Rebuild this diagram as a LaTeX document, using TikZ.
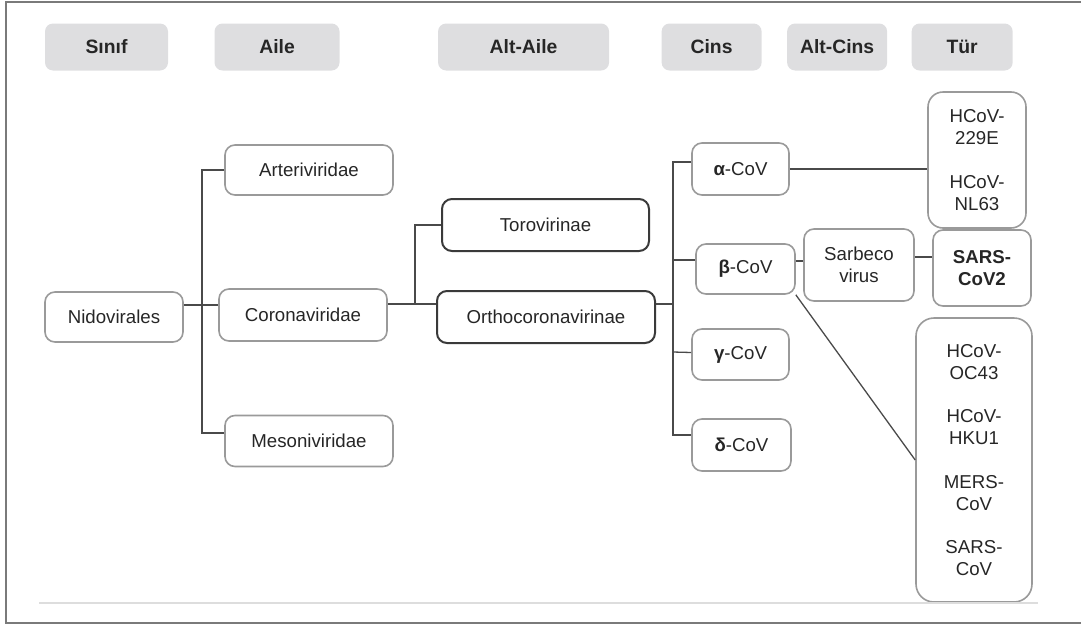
\documentclass[tikz,border=0pt]{standalone}
\usepackage{fontspec}
\setmainfont{Liberation Sans}
\usepackage{tikz}
\usetikzlibrary{positioning}

\newlength{\pxu}
\setlength{\pxu}{0.75pt}
\definecolor{headfill}{HTML}{DEDEE0}
\definecolor{boxgray}{HTML}{9A9A9A}
\definecolor{boxdark}{HTML}{3A3A3A}
\definecolor{linegray}{HTML}{4A4A4A}
\definecolor{textgray}{HTML}{262626}
\definecolor{framegray}{HTML}{7A7A7A}
\definecolor{rulegray}{HTML}{DDDDDD}
\newcommand{\taxfont}{\fontsize{14pt}{16.5pt}\selectfont}
\newcommand{\headfont}{\fontsize{14.5pt}{17pt}\selectfont\bfseries}

\begin{document}
\begin{tikzpicture}[x=0.75pt, y=-0.75pt,
    header/.style={fill=headfill, rounded corners=8\pxu, minimum height=47\pxu, inner sep=0pt, font=\headfont, text=textgray},
    taxon/.style={draw=boxgray, line width=1.6\pxu, rounded corners=10\pxu, inner sep=0pt, align=center, font=\taxfont, text=textgray},
    subfam/.style={taxon, draw=boxdark, line width=2\pxu},
    link/.style={draw=linegray, line width=1.3\pxu}
]
\useasboundingbox (0,0) rectangle (1081,625);

\node[header, minimum width=123\pxu](sinif) at (106.5,47){Sınıf};
\node[header, minimum width=125\pxu](aile)[right = 46\pxu of sinif]{Aile};
\node[header, minimum width=171\pxu](altaile)[right = 98\pxu of aile]{Alt-Aile};
\node[header, minimum width=100\pxu](cins)[right = 52\pxu of altaile]{Cins};
\node[header, minimum width=100\pxu](altcins)[right = 25\pxu of cins]{Alt-Cins};
\node[header, minimum width=101\pxu](tur)[right = 24\pxu of altcins]{Tür};

\node[taxon, minimum width=138\pxu, minimum height=50\pxu](nido) at (114,317){Nidovirales};
\node[taxon, minimum width=168\pxu, minimum height=50\pxu](arte) at (309,170){Arteriviridae};
\node[taxon, minimum width=168\pxu, minimum height=52\pxu](coro) at (303,315){Coronaviridae};
\node[taxon, minimum width=168\pxu, minimum height=51\pxu](meso) at (309,441){Mesoniviridae};

\node[subfam, minimum width=207\pxu, minimum height=52\pxu](toro) at (545.5,225){Torovirinae};
\node[subfam, minimum width=218\pxu, minimum height=52\pxu](ortho) at (546,317){Orthocoronavirinae};

\node[taxon, minimum width=97\pxu, minimum height=52\pxu](alpha) at (740.5,169){\textbf{α}-CoV};
\node[taxon, minimum width=99\pxu, minimum height=50\pxu](beta) at (745.5,269){\textbf{β}-CoV};
\node[taxon, minimum width=97\pxu, minimum height=51\pxu](gamma) at (740.5,354.5){\textbf{γ}-CoV};
\node[taxon, minimum width=99\pxu, minimum height=52\pxu](delta) at (741.5,445){\textbf{δ}-CoV};

\node[taxon, minimum width=110\pxu, minimum height=72\pxu](sarbeco) at (859,265){Sarbeco\\virus};
\node[taxon, minimum width=98\pxu, minimum height=76\pxu, font=\taxfont\bfseries](sars2) at (982,268){SARS-\\CoV2};
\node[taxon, minimum width=98\pxu, minimum height=136\pxu, rounded corners=15\pxu](hcova) at (977,160){HCoV-\\229E\\[16pt]HCoV-\\NL63};
\node[taxon, minimum width=116\pxu, minimum height=284\pxu, rounded corners=18\pxu](hcovb) at (974,460){HCoV-\\OC43\\[16pt]HCoV-\\HKU1\\[16pt]MERS-\\CoV\\[16pt]SARS-\\CoV};

\coordinate (famtrunk) at (202,0);
\coordinate (subfork) at (415,0);
\coordinate (gentrunk) at (673,0);

\draw[link] ([yshift=12\pxu]nido.east) -- ([yshift=10\pxu]coro.west);
\draw[link] (arte.west) -| (famtrunk |- 0,433) -- ([yshift=8\pxu]meso.west);
\draw[link] ([yshift=11\pxu]coro.east) -- ([yshift=13\pxu]ortho.west);
\draw[link] (toro.west) -| (subfork |- 0,304);
\draw[link] ([yshift=13\pxu]ortho.east) -- (gentrunk |- 0,304);
\draw[link] ([yshift=7\pxu]alpha.west) -| (gentrunk |- 0,435) -- ([yshift=10\pxu]delta.west);
\draw[link] ([yshift=9\pxu]beta.west) -- (gentrunk |- 0,260);
\draw[link] ([yshift=2\pxu]gamma.west) -- (gentrunk |- 0,352);
\draw[link] (alpha.east) -- (alpha.east -| hcova.west);
\draw[link] ([yshift=8\pxu]beta.east) -- ([yshift=4\pxu]sarbeco.west);
\draw[link] ([yshift=8\pxu]sarbeco.east) -- ([yshift=11\pxu]sars2.west);
\draw[link] (beta.south east) -- (hcovb.west);

\draw[framegray, line width=2\pxu] (1081,2) -- (6,2) -- (6,623) -- (1081,623);
\draw[rulegray, line width=2\pxu] (39,603) -- (1038,603);
\end{tikzpicture}
\end{document}
